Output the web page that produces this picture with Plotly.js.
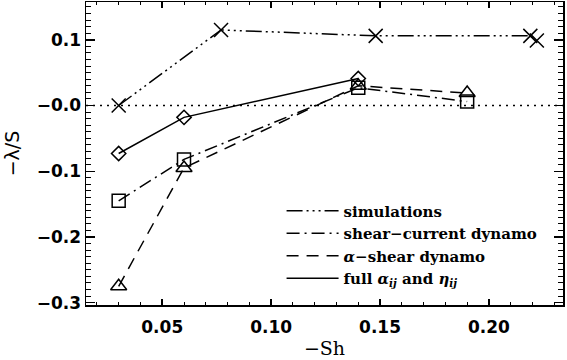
<!DOCTYPE html>
<html><head><meta charset="utf-8">
<script src="https://cdn.plot.ly/plotly-3.0.1.min.js"></script>
<style>html,body{margin:0;padding:0;background:#fff}#c{width:567px;height:360px}</style>
</head><body><div id="c"></div>
<script>
// Data
const simX = [0.030, 0.077, 0.148, 0.219, 0.222];
const simY = [0.000, 0.115, 0.106, 0.106, 0.099];
const scX = [0.030, 0.060, 0.140, 0.190];
const scY = [-0.145, -0.082, 0.027, 0.006];
const asX = [0.030, 0.060, 0.140, 0.190];
const asY = [-0.275, -0.095, 0.030, 0.019];
const fullX = [0.030, 0.060, 0.140];
const fullY = [-0.073, -0.018, 0.041];
const seriesNames = ["simulations", "shear\u2212current dynamo", "<i>\u03b1</i>\u2212shear dynamo", "full <i>\u03b1<sub>ij</sub></i> and <i>\u03b7<sub>ij</sub></i>"];
const yTickVals = [-0.3, -0.2, -0.1, 0, 0.1];
const yTickText = ["\u22120.3", "\u22120.2", "\u22120.1", "\u22120.0", "0.1"];
const xTickVals = [0.05, 0.10, 0.15, 0.20];
const xTickText = ["0.05", "0.10", "0.15", "0.20"];

const dashes = ["16px,4px,2px,4px,2px,4px,2px,4px", "13px,5px,2px,5px", "12px,8px", "solid"];
const xs = [simX, scX, asX, fullX];
const ys = [simY, scY, asY, fullY];
const syms = ["x-thin-open", "square-open", "triangle-up-open", "diamond-open"];
const sizes = [14, 13, 14, 11];

const traces = [];
for (let i = 0; i < 4; i++) {
  traces.push({x: xs[i], y: ys[i], mode: 'lines', name: seriesNames[i],
    line: {color: '#000', width: 1.5, dash: dashes[i]}, showlegend: true, hoverinfo: 'skip'});
}
for (let i = 0; i < 4; i++) {
  traces.push({x: xs[i], y: ys[i], mode: 'markers', showlegend: false,
    marker: {symbol: syms[i], size: sizes[i], color: '#000', line: {color: '#000', width: 1.5}}});
}

const tickFont = {family: 'DejaVu Sans', size: 17, color: '#000', weight: 'bold'};
const layout = {
  width: 567, height: 360,
  margin: {l: 86, r: 4, t: 2, b: 55},
  paper_bgcolor: '#fff', plot_bgcolor: '#fff',
  showlegend: true,
  legend: {x: 0.41, y: 0.365, xanchor: 'left', yanchor: 'top', bgcolor: 'rgba(0,0,0,0)',
    font: {family: 'DejaVu Serif', size: 15, color: '#000', weight: 'bold'},
    itemwidth: 52, tracegroupgap: 0},
  xaxis: {range: [0.015, 0.234], showgrid: false, zeroline: false,
    showline: true, linecolor: '#000', linewidth: 1.5, mirror: 'ticks',
    ticks: 'inside', ticklen: 6, tickwidth: 1.5, tickcolor: '#000',
    tickvals: xTickVals, ticktext: xTickText, tickfont: tickFont, ticklabelstandoff: 6,
    minor: {dtick: 0.01, tick0: 0, ticks: 'inside', ticklen: 3, tickwidth: 1, tickcolor: '#000'},
    title: {text: '\u2212Sh', font: {family: 'DejaVu Serif', size: 19, color: '#000'}, standoff: 6}},
  yaxis: {range: [-0.3035, 0.1575], showgrid: false, zeroline: false,
    showline: true, linecolor: '#000', linewidth: 1.5, mirror: 'ticks',
    ticks: 'inside', ticklen: 9, tickwidth: 1.5, tickcolor: '#000',
    tickvals: yTickVals, ticktext: yTickText, tickfont: tickFont,
    minor: {dtick: 0.01, tick0: 0, ticks: 'inside', ticklen: 5, tickwidth: 1, tickcolor: '#000'},
    title: {text: '\u2212\u03bb/S', font: {family: 'DejaVu Sans', size: 19, color: '#000'}, standoff: 12}},
  shapes: [{type: 'line', xref: 'paper', x0: 0, x1: 1, yref: 'y', y0: 0, y1: 0,
    line: {color: '#000', width: 1.5, dash: '2px,5px'}}]
};
Plotly.newPlot('c', traces, layout, {displayModeBar: false, staticPlot: true});
</script></body></html>
